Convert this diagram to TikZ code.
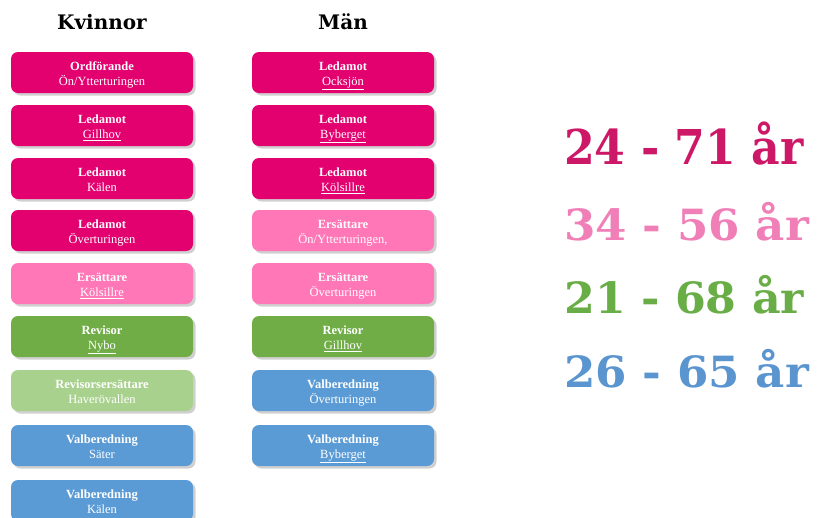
\documentclass[tikz,border=0pt]{standalone}
\usepackage{fontspec}
\setmainfont{Liberation Serif}
\newfontfamily\headfont{DejaVu Serif}
\usetikzlibrary{shadows}
\definecolor{dpink}{HTML}{E3006F}
\definecolor{lpink}{HTML}{FF77B7}
\definecolor{dgreen}{HTML}{70AD47}
\definecolor{lgreen}{HTML}{A9D18E}
\definecolor{mblue}{HTML}{5B9BD5}
\definecolor{tpink}{HTML}{CC1866}
\definecolor{tlpink}{HTML}{F07FB8}
\definecolor{tgreen}{HTML}{68AD45}
\definecolor{tblue}{HTML}{5B95CF}
\newcommand{\spl}[1]{\underline{#1}}
\tikzset{
  card/.style={shape=rectangle, rounded corners=7pt, minimum width=182pt, minimum height=41pt,
    align=center, text=white, font=\fontsize{12.5}{15}\selectfont, inner sep=0pt,
    drop shadow={shadow xshift=2.5pt, shadow yshift=-2.5pt, opacity=0.3, fill=black!60}},
  cdp/.style={card, fill=dpink},
  clp/.style={card, fill=lpink},
  cdg/.style={card, fill=dgreen},
  clg/.style={card, fill=lgreen},
  cbl/.style={card, fill=mblue},
  head/.style={font=\headfont\bfseries\fontsize{20}{24}\selectfont},
  age/.style={anchor=base west, inner sep=0pt, font=\headfont\bfseries}
}
\newcommand{\cardtext}[2]{\raisebox{-2.5pt}[\height][\depth]{\begin{tabular}{@{}c@{}}\textbf{#1}\\#2\end{tabular}}}
\begin{document}
\begin{tikzpicture}[x=1pt,y=-1pt]
\useasboundingbox (0,0) rectangle (819,517);
\clip (0,0) rectangle (819,517);
\fill[white] (0,0) rectangle (819,517);
\node[head] (hk) at (102,22) {Kvinnor};
\node[head] (hm) at (343,22) {Män};
% left column
\node[cdp] (k1) at (102,72.5) {\cardtext{Ordförande}{Ön/Ytterturingen}};
\node[cdp] (k2) at (102,125.5) {\cardtext{Ledamot}{\spl{Gillhov}}};
\node[cdp] (k3) at (102,178.5) {\cardtext{Ledamot}{Kälen}};
\node[cdp] (k4) at (102,230.5) {\cardtext{Ledamot}{Överturingen}};
\node[clp] (k5) at (102,283.5) {\cardtext{Ersättare}{\spl{Kölsillre}}};
\node[cdg] (k6) at (102,336.5) {\cardtext{Revisor}{\spl{Nybo}}};
\node[clg] (k7) at (102,390.5) {\cardtext{Revisorsersättare}{Haverövallen}};
\node[cbl] (k8) at (102,445.5) {\cardtext{Valberedning}{Säter}};
\node[cbl] (k9) at (102,500.5) {\cardtext{Valberedning}{Kälen}};
% right column
\node[cdp] (m1) at (343,72.5) {\cardtext{Ledamot}{\spl{Ocksjön}}};
\node[cdp] (m2) at (343,125.5) {\cardtext{Ledamot}{\spl{Byberget}}};
\node[cdp] (m3) at (343,178.5) {\cardtext{Ledamot}{\spl{Kölsillre}}};
\node[clp] (m4) at (343,230.5) {\cardtext{Ersättare}{Ön/Ytterturingen,}};
\node[clp] (m5) at (343,283.5) {\cardtext{Ersättare}{Överturingen}};
\node[cdg] (m6) at (343,336.5) {\cardtext{Revisor}{\spl{Gillhov}}};
\node[cbl] (m7) at (343,390.5) {\cardtext{Valberedning}{Överturingen}};
\node[cbl] (m8) at (343,445.5) {\cardtext{Valberedning}{\spl{Byberget}}};
% ages
\node[age, text=tpink] (a1) at (564,164) {\scalebox{0.92}[1]{\fontsize{48}{50}\selectfont 24 - 71 år}};
\node[age, text=tlpink] (a2) at (564,240) {\scalebox{1.05}[1]{\fontsize{43}{45}\selectfont 34 - 56 år}};
\node[age, text=tgreen] (a3) at (564,313) {\scalebox{1.03}[1]{\fontsize{43}{45}\selectfont 21 - 68 år}};
\node[age, text=tblue] (a4) at (564,387) {\scalebox{1.05}[1]{\fontsize{43}{45}\selectfont 26 - 65 år}};
\end{tikzpicture}
\end{document}
